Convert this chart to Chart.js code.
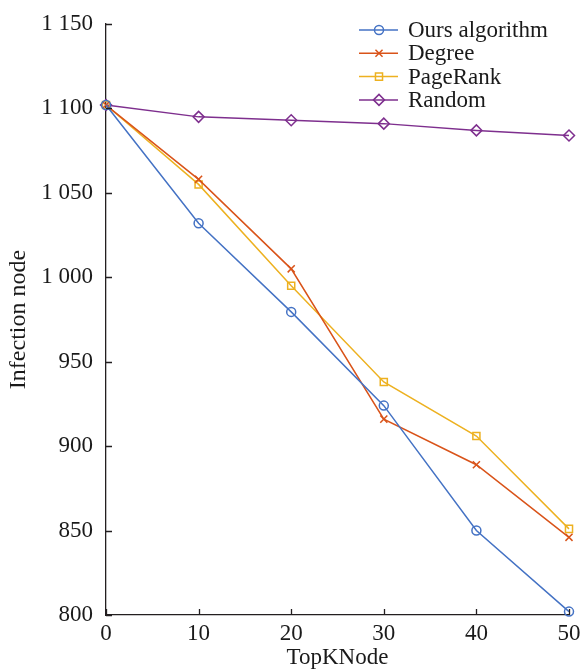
<!DOCTYPE html>
<html><head><meta charset="utf-8">
<script src="https://cdn.jsdelivr.net/npm/chart.js@4/dist/chart.umd.min.js"></script>
<style>html,body{margin:0;padding:0;background:#fff}#wrap{width:585px;height:672px;position:relative}</style>
</head><body><div id="wrap"><canvas id="c"></canvas></div>
<script>
const xValues = [0, 10, 20, 30, 40, 50];
const seriesNames = ["Ours algorithm", "Degree", "PageRank", "Random"];
const oursValues = [1102, 1032, 979.5, 924, 850, 802];
const degreeValues = [1102, 1058, 1005, 916, 889, 846];
const pagerankValues = [1102, 1055, 995, 938, 906, 851];
const randomValues = [1102, 1095, 1093, 1091, 1087, 1084];
const yTicks = [800, 850, 900, 950, 1000, 1050, 1100, 1150];
const xTicks = [0, 10, 20, 30, 40, 50];

const colors = ["#4472C4", "#D95319", "#EDB120", "#7E2F8E"];
const styles = ["circle", "crossRot", "rect", "rectRot"];
const radii = [4.5, 5, 5, 5.5];
const allValues = [oursValues, degreeValues, pagerankValues, randomValues];
const FONT = "'Liberation Serif','Times New Roman',serif";
const TXT = '#1a1a1a';

const datasets = seriesNames.map((n, i) => ({
  label: n,
  data: xValues.map((x, j) => ({x: x, y: allValues[i][j]})),
  borderColor: colors[i],
  backgroundColor: 'rgba(0,0,0,0)',
  pointBorderColor: colors[i],
  pointBackgroundColor: 'rgba(0,0,0,0)',
  pointStyle: styles[i],
  pointRadius: radii[i],
  pointBorderWidth: 1.5,
  borderWidth: 1.5,
  tension: 0,
  clip: false
}));

function fmt(v) {
  const s = String(v);
  if (s.length > 3) return s.slice(0, s.length - 3) + " " + s.slice(s.length - 3);
  return s;
}

const inwardTicks = {
  id: 'inwardTicks',
  afterDatasetsDraw(chart) {
    const ctx = chart.ctx, a = chart.chartArea;
    const xs = chart.scales.x, ys = chart.scales.y;
    ctx.save();
    ctx.strokeStyle = '#231f20';
    ctx.lineWidth = 1.3;
    ctx.beginPath();
    yTicks.forEach(v => { const y = Math.round(ys.getPixelForValue(v)) + 0.5; ctx.moveTo(a.left, y); ctx.lineTo(a.left + 6, y); });
    xTicks.forEach(v => { const x = Math.round(xs.getPixelForValue(v)) + 0.5; ctx.moveTo(x, a.bottom); ctx.lineTo(x, a.bottom - 6); });
    ctx.stroke();
    // legend
    const lx = 359, ly = 30, step = 23.3;
    ctx.font = "23px " + FONT;
    ctx.textBaseline = 'middle';
    seriesNames.forEach((n, i) => {
      const y = ly + i * step;
      ctx.strokeStyle = colors[i];
      ctx.lineWidth = 1.5;
      ctx.beginPath(); ctx.moveTo(lx, y); ctx.lineTo(lx + 39, y); ctx.stroke();
      ctx.fillStyle = 'rgba(0,0,0,0)';
      Chart.helpers.drawPoint(ctx, {pointStyle: styles[i], radius: radii[i], borderWidth: 1.5, rotation: 0}, lx + 20, y);
      ctx.fillStyle = TXT;
      ctx.fillText(n, lx + 49, y + 1);
    });
    ctx.restore();
  }
};

new Chart(document.getElementById('c'), {
  type: 'line',
  data: { datasets: datasets },
  plugins: [inwardTicks],
  options: {
    responsive: true,
    maintainAspectRatio: false,
    animation: false,
    layout: { padding: { top: 24, right: 16, left: 0, bottom: 0 } },
    plugins: { legend: { display: false }, tooltip: { enabled: false } },
    scales: {
      x: {
        type: 'linear', min: 0, max: 50,
        afterBuildTicks(s) { s.ticks = xTicks.map(v => ({value: v})); },
        afterFit(s) { s.height = 57; s.paddingLeft = 0; s.paddingRight = 0; },
        grid: { display: true, drawOnChartArea: false, drawTicks: false },
        border: { display: true, color: '#231f20', width: 1.3 },
        ticks: { color: TXT, font: { family: FONT, size: 23 }, padding: 5, maxRotation: 0 },
        title: { display: true, text: 'TopKNode', color: TXT, font: { family: FONT, size: 23 }, padding: { top: 2, bottom: 0 } }
      },
      y: {
        type: 'linear', min: 800, max: 1150,
        afterBuildTicks(s) { s.ticks = yTicks.map(v => ({value: v})); },
        afterFit(s) { s.width = 106; s.paddingTop = 0; s.paddingBottom = 0; },
        grid: { display: true, drawOnChartArea: false, drawTicks: false },
        border: { display: true, color: '#231f20', width: 1.3 },
        ticks: { color: TXT, font: { family: FONT, size: 23 }, padding: 13, callback: v => fmt(v) },
        title: { display: true, text: 'Infection node', color: TXT, font: { family: FONT, size: 24 }, padding: { top: 4, bottom: 4 } }
      }
    }
  }
});
</script></body></html>
